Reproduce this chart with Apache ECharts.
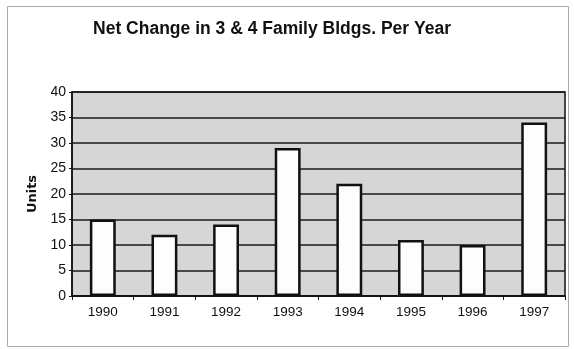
<!DOCTYPE html>
<html>

<head>
    <meta charset="utf-8">
    <title>Net Change Bar</title>
    <script src="https://cdn.jsdelivr.net/npm/echarts@6/dist/echarts.min.js"></script>
    <style>
        html, body {
            margin: 0;
            padding: 0;
            background: #fff;
        }

        .chart {
            width: 574px;
            height: 349px;
        }
    </style>
</head>

<body>
    <div id="main" class="chart"></div>

    <script type="text/javascript">
        // data
        var years = ['1990', '1991', '1992', '1993', '1994', '1995', '1996', '1997'];
        var units = [15, 12, 14, 29, 22, 11, 10, 34];
        var yTicks = [0, 5, 10, 15, 20, 25, 30, 35, 40];

        var myChart = echarts.init(document.getElementById('main'));

        var option = {
            animation: false,
            backgroundColor: '#fff',
            title: {
                text: 'Net Change in 3 & 4 Family Bldgs. Per Year',
                left: 267,
                top: 15,
                textAlign: 'center',
                textStyle: {
                    fontFamily: 'Liberation Sans',
                    fontSize: 17.5,
                    fontWeight: 'bold',
                    color: '#111'
                }
            },
            graphic: [{
                type: 'rect',
                shape: { x: 7.5, y: 6.5, width: 561, height: 340 },
                style: { fill: 'none', stroke: '#aaa', lineWidth: 1 },
                z: -1
            }],
            grid: {
                left: 72,
                right: 574 - 565,
                top: 92,
                bottom: 349 - 296,
                show: true,
                backgroundColor: '#d6d6d6',
                borderColor: '#111',
                borderWidth: 1.5
            },
            xAxis: {
                type: 'category',
                data: years,
                axisLine: { lineStyle: { color: '#111', width: 1.5 } },
                axisTick: { show: true, length: 4, lineStyle: { color: '#111' } },
                axisLabel: {
                    margin: 9,
                    fontFamily: 'Liberation Sans',
                    fontSize: 13.5,
                    color: '#111'
                }
            },
            yAxis: {
                type: 'value',
                min: yTicks[0],
                max: yTicks[yTicks.length - 1],
                interval: 5,
                name: 'Units',
                nameLocation: 'middle',
                nameGap: 30,
                nameTextStyle: {
                    fontFamily: 'DejaVu Sans',
                    fontSize: 13,
                    fontWeight: 'bold',
                    color: '#111'
                },
                axisLine: { show: true, lineStyle: { color: '#111', width: 1.5 } },
                axisTick: { show: true, length: 3, lineStyle: { color: '#111' } },
                axisLabel: {
                    margin: 6,
                    fontFamily: 'Liberation Sans',
                    fontSize: 14,
                    color: '#111'
                },
                splitLine: { lineStyle: { color: '#1a1a1a', width: 1.5 } }
            },
            series: [{
                name: 'Units',
                type: 'bar',
                data: units,
                barWidth: '42%',
                itemStyle: {
                    color: '#fdfdfd',
                    borderColor: '#111',
                    borderWidth: 2.5
                }
            }]
        };

        myChart.setOption(option);
    </script>
</body>

</html>
